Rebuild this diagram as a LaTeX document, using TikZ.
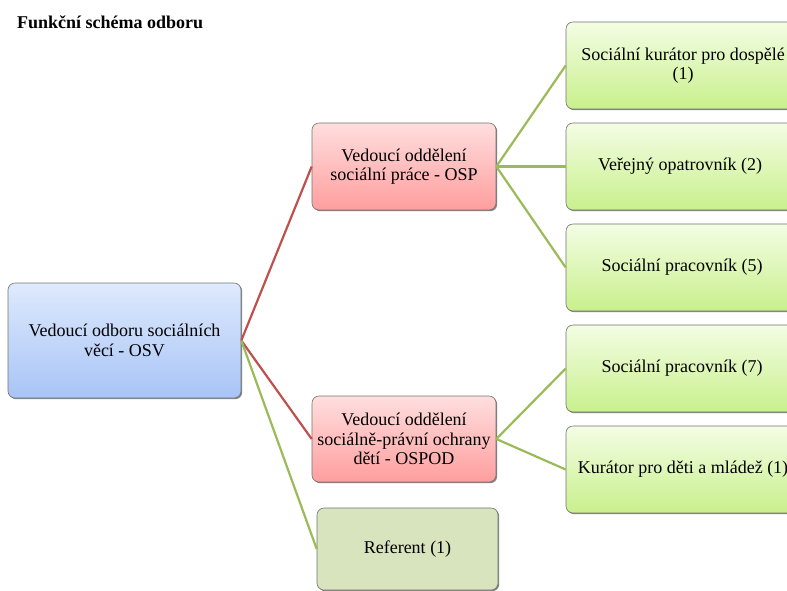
\documentclass[tikz,border=0pt]{standalone}
\usepackage{fontspec}
\setmainfont{Liberation Serif}
\usetikzlibrary{shadows}
\begin{document}
\begin{tikzpicture}[x=1pt,y=-1pt,
  box/.style={rectangle, rounded corners=7pt, draw=black!55, line width=0.6pt, align=center,
    font=\fontsize{18}{19.5}\selectfont, inner sep=2pt,
    drop shadow={shadow xshift=1.2pt, shadow yshift=-1.2pt, fill=black!60, opacity=0.8}},
  bluebox/.style={box, top color={rgb,255:red,222;green,234;blue,253}, bottom color={rgb,255:red,168;green,196;blue,246}},
  redbox/.style={box, top color={rgb,255:red,255;green,222;blue,222}, bottom color={rgb,255:red,255;green,158;blue,158}},
  greenbox/.style={box, top color={rgb,255:red,244;green,253;blue,228}, bottom color={rgb,255:red,200;green,240;blue,140}},
  refbox/.style={box, fill={rgb,255:red,215;green,228;blue,189}},
  redline/.style={draw={rgb,255:red,192;green,80;blue,77}, line width=2.2pt},
  greenline/.style={draw={rgb,255:red,155;green,187;blue,89}, line width=2.2pt}]
\clip (0,0) rectangle (787,590);
\fill[white] (0,0) rectangle (787,590);
\node[font=\fontsize{18}{20}\selectfont\bfseries, anchor=west, inner sep=0pt] (title) at (17,22) {Funkční schéma odboru};

\node[bluebox, minimum width=233pt, minimum height=115pt] (root) at (124.5,340.5) {Vedoucí odboru sociálních\\věcí - OSV};
\node[redbox, minimum width=184pt, minimum height=87pt] (osp) at (404,166.5) {Vedoucí oddělení\\sociální práce - OSP};
\node[redbox, minimum width=184pt, minimum height=86pt] (ospod) at (404,439) {Vedoucí oddělení\\sociálně-právní ochrany\\dětí - OSPOD};
\node[refbox, minimum width=181pt, minimum height=82pt] (ref) at (407.5,549) {Referent (1)};

\node[greenbox, minimum width=234pt, minimum height=87pt] (g1) at (683,65.5) {Sociální kurátor pro dospělé\\(1)};
\node[greenbox, minimum width=234pt, minimum height=87pt] (g2) at (683,166.5) {\hspace*{-4pt}Veřejný opatrovník (2)\hspace*{2pt}};
\node[greenbox, minimum width=234pt, minimum height=87pt] (g3) at (683,267.5) {Sociální pracovník (5)\hspace*{2pt}};
\node[greenbox, minimum width=234pt, minimum height=87pt] (g4) at (683,368.5) {Sociální pracovník (7)\hspace*{2pt}};
\node[greenbox, minimum width=234pt, minimum height=87pt] (g5) at (683,469.5) {Kurátor pro děti a mládež (1)};

\draw[redline] (root.east) -- (osp.west);
\draw[redline] (root.east) -- (ospod.west);
\draw[greenline] (root.east) -- (ref.west);
\draw[greenline] (osp.east) -- (g1.west);
\draw[greenline] (osp.east) -- (g2.west);
\draw[greenline] (osp.east) -- (g3.west);
\draw[greenline] (ospod.east) -- (g4.west);
\draw[greenline] (ospod.east) -- (g5.west);
\end{tikzpicture}
\end{document}
